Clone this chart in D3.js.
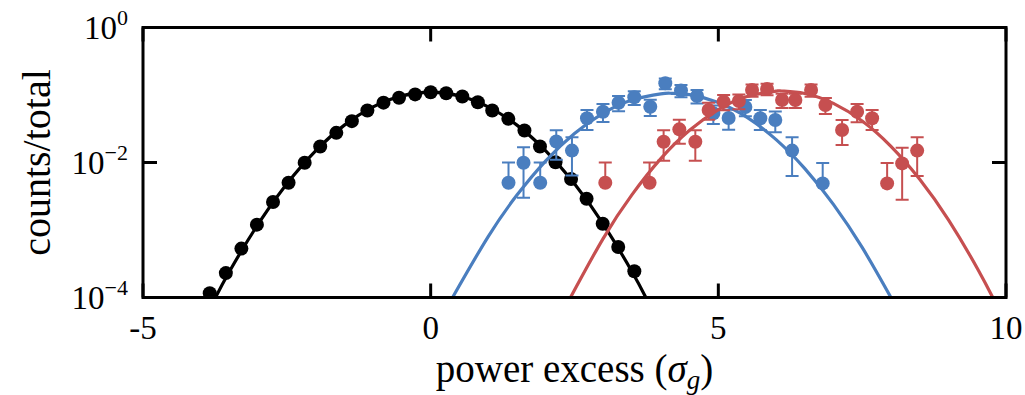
<!DOCTYPE html>
<html>
<head>
<meta charset="utf-8">
<script src="https://cdn.jsdelivr.net/npm/d3@7"></script>
<style>
  body { margin: 0; background: #fff; }
  text { font-family: "Liberation Serif", "DejaVu Serif", serif; fill: #000; }
</style>
</head>
<body>
<div id="chart"></div>
<script>
// binned counts
var blackX = [-3.84, -3.56, -3.29, -3.02, -2.74, -2.47, -2.19, -1.92, -1.64, -1.37, -1.10, -0.82, -0.55, -0.27,
              0, 0.27, 0.55, 0.82, 1.07, 1.35, 1.63, 1.90, 2.17, 2.44, 2.71, 2.99, 3.26, 3.54];
var blackY = [1.16e-4, 2.3e-4, 5.3e-4, 1.2e-3, 2.6e-3, 5.0e-3, 9.9e-3, 0.0173, 0.0275, 0.041, 0.059, 0.077, 0.091, 0.102,
              0.110, 0.106, 0.095, 0.078, 0.059, 0.0443, 0.0298, 0.0173, 0.0101, 0.0057, 0.0029, 0.00124, 5.6e-4, 2.45e-4];

var blueX = [1.353, 1.614, 1.904, 2.183, 2.456, 2.717, 2.995, 3.266, 3.539, 3.817,
             4.078, 4.351, 4.63, 4.913, 5.179, 5.47, 5.73, 5.99, 6.282, 6.814];
var blueY = [0.005, 0.0099, 0.005, 0.0205, 0.015, 0.0452, 0.0566, 0.0769, 0.0925, 0.067,
             0.149, 0.1166, 0.0966, 0.0536, 0.0456, 0.0664, 0.0452, 0.0426, 0.015, 0.0049];
var blueErr = [0.005, 0.0069, 0.005, 0.0095, 0.0086, 0.015, 0.0168, 0.0195, 0.0213, 0.018,
               0.027, 0.024, 0.022, 0.0163, 0.015, 0.018, 0.015, 0.0145, 0.0087, 0.0049];

var redX = [3.035, 3.805, 4.049, 4.322, 4.6, 4.831, 5.092, 5.357, 5.586, 5.847,
            6.108, 6.339, 6.612, 6.861, 7.151, 7.412, 7.673, 7.934, 8.195, 8.456];
var redY = [0.005, 0.005, 0.0203, 0.031, 0.0203, 0.06, 0.0796, 0.0815, 0.1186, 0.1228,
            0.0843, 0.0843, 0.1186, 0.0711, 0.0303, 0.0566, 0.0452, 0.0049, 0.0097, 0.015];
var redErr = [0.005, 0.005, 0.0097, 0.012, 0.0097, 0.017, 0.02, 0.02, 0.024, 0.024,
              0.02, 0.02, 0.024, 0.019, 0.0122, 0.017, 0.015, 0.0049, 0.0069, 0.0087];

// fitted curves, sampled off the plot
var blackFitX = [-3.74, -3.5, -3, -2.5, -2, -1.5, -1, -0.5, 0, 0.5, 1, 1.5, 2, 2.5, 3, 3.5, 3.74];
var blackFitY = [1e-4, 2.41e-4, 1.22e-3, 4.84e-3, 0.0149, 0.0358, 0.0668, 0.0972, 0.110,
                 0.0972, 0.0668, 0.0358, 0.0149, 4.84e-3, 1.22e-3, 2.41e-4, 1e-4];
var blueFitX = [0.38, 1, 1.5, 2, 2.5, 3, 3.5, 4, 4.19, 4.5, 5, 5.5, 6, 6.5, 7, 7.5, 8];
var blueFitY = [1e-4, 8.0e-4, 3.29e-3, 0.0106, 0.0269, 0.0537, 0.0843, 0.1041, 0.106,
                0.1012, 0.0773, 0.0465, 0.022, 8.18e-3, 2.40e-3, 5.52e-4, 1e-4];
var redFitX = [2.43, 3, 3.5, 4, 4.5, 5, 5.5, 6, 6.1, 6.5, 7, 7.5, 8, 8.5, 9, 9.5, 9.77];
var redFitY = [1e-4, 7.53e-4, 3.34e-3, 0.01141, 0.0300, 0.0608, 0.0949, 0.114, 0.1146,
               0.1054, 0.075, 0.0411, 0.01734, 5.64e-3, 1.41e-3, 2.72e-4, 1e-4];

var xTicks = [-5, 0, 5, 10];
var xTickLabels = ["-5", "0", "5", "10"];
var yTicks = [1, 1e-2, 1e-4];
var yTickExp = ["0", "\u22122", "\u22124"];

// setup dimensions
var width = 1025, height = 395;
var pLeft = 143, pRight = 1006, pTop = 27.5, pBottom = 297.5;

var svg = d3.select("#chart").append("svg").attr("width", width).attr("height", height);

var x_scale = d3.scaleLinear().domain([-5, 10]).range([pLeft, pRight]);
var y_scale = d3.scaleLog().domain([1e-4, 1]).range([pBottom, pTop]);

svg.append("clipPath").attr("id", "clip")
    .append("rect").attr("x", pLeft).attr("y", pTop).attr("width", pRight - pLeft).attr("height", pBottom - pTop);

var plot = svg.append("g").attr("clip-path", "url(#clip)");

function drawSeries(xs, ys, errs, fitX, fitY, color) {
    var line = d3.line()
        .x(function (d) { return x_scale(d[0]); })
        .y(function (d) { return y_scale(d[1]); })
        .curve(d3.curveNatural);
    plot.append("path")
        .datum(d3.zip(fitX, fitY))
        .attr("d", line)
        .attr("fill", "none")
        .attr("stroke", color)
        .attr("stroke-width", 3.2);

    var pts = d3.zip(xs, ys, errs || xs.map(function () { return 0; }));
    if (errs) {
        var g = plot.append("g").attr("stroke", color).attr("stroke-width", 2);
        pts.forEach(function (d) {
            var cx = x_scale(d[0]);
            var hi = y_scale(d[1] + d[2]);
            var lo = d[1] - d[2] > 0 ? y_scale(d[1] - d[2]) : y_scale(d[1]);
            g.append("line").attr("x1", cx).attr("x2", cx).attr("y1", hi).attr("y2", lo);
            g.append("line").attr("x1", cx - 6.5).attr("x2", cx + 6.5).attr("y1", hi).attr("y2", hi);
            if (d[1] - d[2] > 0) {
                g.append("line").attr("x1", cx - 6.5).attr("x2", cx + 6.5).attr("y1", lo).attr("y2", lo);
            }
        });
    }
    plot.append("g").selectAll("circle")
        .data(pts)
        .enter()
        .append("circle")
        .attr("cx", function (d) { return x_scale(d[0]); })
        .attr("cy", function (d) { return y_scale(d[1]); })
        .attr("r", 7)
        .attr("fill", color);
}

drawSeries(blackX, blackY, null, blackFitX, blackFitY, "#000000");
drawSeries(blueX, blueY, blueErr, blueFitX, blueFitY, "#4a7ebf");
drawSeries(redX, redY, redErr, redFitX, redFitY, "#c64f50");

// ticks (inward, on all four sides)
var tickLen = 14;
xTicks.forEach(function (t) {
    var px = x_scale(t);
    svg.append("line").attr("x1", px).attr("x2", px).attr("y1", pBottom).attr("y2", pBottom - tickLen)
        .attr("stroke", "#000").attr("stroke-width", 3);
    svg.append("line").attr("x1", px).attr("x2", px).attr("y1", pTop).attr("y2", pTop + tickLen)
        .attr("stroke", "#000").attr("stroke-width", 3);
});
yTicks.forEach(function (t) {
    var py = y_scale(t);
    svg.append("line").attr("x1", pLeft).attr("x2", pLeft + tickLen).attr("y1", py).attr("y2", py)
        .attr("stroke", "#000").attr("stroke-width", 3);
    svg.append("line").attr("x1", pRight).attr("x2", pRight - tickLen).attr("y1", py).attr("y2", py)
        .attr("stroke", "#000").attr("stroke-width", 3);
});

// frame
svg.append("rect")
    .attr("x", pLeft).attr("y", pTop)
    .attr("width", pRight - pLeft).attr("height", pBottom - pTop)
    .attr("fill", "none").attr("stroke", "#000").attr("stroke-width", 3);

// tick labels
svg.selectAll(".xlab")
    .data(xTicks)
    .enter()
    .append("text")
    .attr("x", function (d) { return x_scale(d); })
    .attr("y", 339)
    .attr("text-anchor", "middle")
    .style("font-size", "33px")
    .text(function (d, i) { return xTickLabels[i]; });

yTicks.forEach(function (t, i) {
    var txt = svg.append("text")
        .attr("x", 128)
        .attr("y", y_scale(t) + 11)
        .attr("text-anchor", "end")
        .style("font-size", "33px");
    txt.append("tspan").text("10");
    txt.append("tspan").attr("dy", -14).style("font-size", "22px").text(yTickExp[i]);
});

// axis labels
var xl = svg.append("text")
    .attr("x", (pLeft + pRight) / 2)
    .attr("y", 382)
    .attr("text-anchor", "middle")
    .style("font-size", "39px");
xl.append("tspan").text("power excess (");
xl.append("tspan").style("font-style", "italic").text("\u03c3");
xl.append("tspan").attr("dy", 7).style("font-style", "italic").style("font-size", "27px").text("g");
xl.append("tspan").attr("dy", -7).text(")");

svg.append("text")
    .attr("transform", "translate(50," + ((pTop + pBottom) / 2) + ") rotate(-90)")
    .attr("text-anchor", "middle")
    .style("font-size", "40px")
    .text("counts/total");
</script>
</body>
</html>
